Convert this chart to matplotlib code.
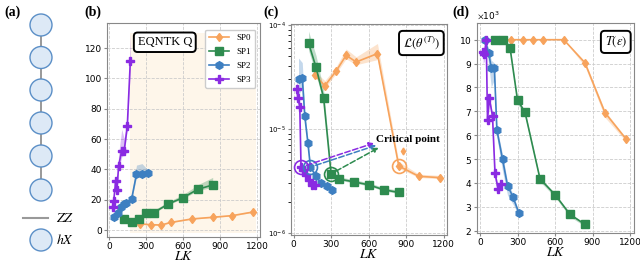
import numpy as np
import matplotlib
matplotlib.use("Agg")
from matplotlib import pyplot as plt
from matplotlib.ticker import MultipleLocator
from matplotlib.patches import Circle

plt.rcParams['mathtext.fontset'] = 'stix'
plt.rcParams['font.size'] = 6.5

# LK values per schedule
lk_sp0 = [170, 250, 340, 420, 500, 670, 840, 1000, 1170]
lk_sp1 = [120, 180, 240, 300, 360, 480, 600, 720, 840]
lk_sp2 = [40, 70, 90, 115, 135, 180, 220, 265, 310]
lk_sp3 = [25, 35, 50, 60, 75, 100, 120, 145, 170]

# (b) EQNTK Q
q_sp0 = [5.5, 4.0, 3.5, 3.3, 5.0, 7.3, 8.4, 9.5, 11.9]
q_sp1 = [7.0, 5.5, 7.3, 11.0, 11.5, 17.2, 21.4, 26.9, 29.7]
q_sp2 = [8.8, 11.5, 15.0, 17.2, 17.6, 20.3, 36.8, 36.8, 37.9]
q_sp3 = [15.4, 19.4, 32.0, 26.4, 42.5, 52.4, 52.4, 68.3, 111.7]
q_err0 = [0.5, 0.5, 0.5, 0.5, 0.5, 0.6, 0.6, 0.6, 0.8]
q_err1 = [0.8, 0.8, 0.8, 1.2, 1.5, 1.5, 2.0, 3.0, 5.0]
q_err2 = [1.0, 1.5, 1.5, 1.0, 1.0, 3.0, 6.0, 7.0, 2.0]
q_err3 = [1.5, 2.0, 3.0, 4.0, 8.0, 14.0, 8.0, 6.0, 18.0]

# (c) loss L(theta^(T))
l_sp0 = [3.3e-5, 2.6e-5, 3.6e-5, 5.1e-5, 4.4e-5, 5.3e-5, 4.4e-6, 3.5e-6, 3.4e-6]
l_sp1 = [6.7e-5, 3.9e-5, 2.0e-5, 3.7e-6, 3.3e-6, 3.1e-6, 2.9e-6, 2.6e-6, 2.45e-6]
l_sp2 = [3.0e-5, 3.1e-5, 1.33e-5, 7.3e-6, 4.3e-6, 3.5e-6, 3.0e-6, 2.8e-6, 2.6e-6]
l_sp3 = [2.4e-5, 2.0e-5, 1.64e-5, 4.3e-6, 4.0e-6, 3.6e-6, 3.2e-6, 2.9e-6, 2.9e-6]
l_rel0 = [0.08, 0.12, 0.1, 0.15, 0.12, 0.25, 0.1, 0.05, 0.05]
l_rel1 = [0.3, 0.3, 0.2, 0.08, 0.05, 0.05, 0.05, 0.05, 0.05]
l_rel2 = [0.6, 0.4, 0.1, 0.08, 0.06, 0.05, 0.05, 0.05, 0.05]
l_rel3 = [0.45, 0.2, 0.1, 0.1, 0.08, 0.05, 0.05, 0.05, 0.05]
crit_idx = {'SP0': 6, 'SP1': 3, 'SP2': 4, 'SP3': 3}
arrow_end = {'SP1': (680, 6.6e-6), 'SP2': (660, 6.95e-6), 'SP3': (642, 7.3e-6)}
outlier_lk, outlier_val = 870, 6.2e-6

# (d) T(eps)
t_sp0 = [10000, 10000, 10000, 10000, 10000, 10000, 9030, 6940, 5830]
t_sp1 = [10000, 10000, 9670, 7470, 6960, 4170, 3510, 2680, 2260]
t_sp2 = [10000, 9440, 8820, 8820, 6220, 5000, 3890, 3400, 2750]
t_sp3 = [9500, 9400, 10000, 6650, 7550, 6800, 4400, 3750, 3950]
t_err0 = [0, 0, 0, 0, 0, 0, 150, 200, 100]
t_err1 = [0, 0, 100, 150, 150, 120, 100, 100, 80]
t_err2 = [0, 500, 800, 500, 300, 500, 400, 300, 100]
t_err3 = [500, 300, 0, 300, 300, 200, 300, 200, 100]

names = ['SP0', 'SP1', 'SP2', 'SP3']
colors = ['#f7a35c', '#2e8b4f', '#3d7fc1', '#8a2be2']
markers = ['d', 's', 'h', 'P']
msizes = [4.5, 5.5, 5.5, 6]
lks = [lk_sp0, lk_sp1, lk_sp2, lk_sp3]

fig = plt.figure(figsize=(6.4, 2.64), dpi=100)

## panel (a): chain
axa = fig.add_axes([0, 0, 100/640, 1])
axa.set_xlim(0, 100)
axa.set_ylim(264, 0)
axa.axis('off')
chain_y = [25, 57.5, 90, 123, 156, 190]
axa.plot([41]*len(chain_y), chain_y, color='#888888', lw=1.2, zorder=1)
for cy in chain_y:
    axa.add_patch(Circle((41, cy), 11, fc='#dde9f6', ec='#5b8fc7', lw=1, zorder=2))
axa.plot([23, 48], [218, 218], color='#999999', lw=1.5)
axa.text(56, 218, r'$ZZ$', fontsize=10, va='center')
axa.add_patch(Circle((41, 240), 11, fc='#dde9f6', ec='#5b8fc7', lw=1))
axa.text(56, 240, r'$hX$', fontsize=10, va='center')

def style(ax):
    ax.grid(color='#cccccc', linestyle='--', lw=0.6)
    ax.set_axisbelow(True)
    for s in ax.spines.values():
        s.set_color('#888888')
    ax.tick_params(labelsize=6.5, length=2, color='#888888', pad=1.5)
    ax.set_xlim(-20, 1225)
    ax.xaxis.set_major_locator(MultipleLocator(300))
    ax.set_xlabel(r'$LK$', fontsize=10, labelpad=-1)

def tbox(ax, s):
    ax.text(0.955, 0.91, s, transform=ax.transAxes, ha='right', va='center',
            fontsize=9, family='Liberation Serif',
            bbox=dict(boxstyle='round,pad=0.3', fc='white', ec='black', lw=1.4))

## panel (b)
axb = fig.add_axes([107/640, 1-237/264, 153/640, 214/264])
style(axb)
shade_lk = (170, 1190)
axb.fill_between(shade_lk, -2, 130, color='#fef6ea', lw=0, zorder=0)
for nm, c, m, ms, x, y, e in zip(names, colors, markers, msizes, lks,
                                  [q_sp0, q_sp1, q_sp2, q_sp3],
                                  [q_err0, q_err1, q_err2, q_err3]):
    y = np.array(y); e = np.array(e)
    axb.fill_between(x, y - e*0.3, y + e, color=c, alpha=0.3, lw=0)
    axb.plot(x, y, color=c, marker=m, ms=ms, lw=1.2, label=nm)
axb.set_ylim(-4.6, 136.5)
axb.yaxis.set_major_locator(MultipleLocator(20))
axb.legend(loc='upper right', prop={'family': 'Liberation Serif', 'size': 6.5},
           handlelength=2.2, borderpad=0.5, labelspacing=0.6, framealpha=1,
           bbox_to_anchor=(1.0, 0.99))
axb.text(0.2, 0.91, 'EQNTK Q', transform=axb.transAxes, ha='left', va='center',
         fontsize=9, family='Liberation Serif',
         bbox=dict(boxstyle='round,pad=0.3', fc='white', ec='black', lw=1.4))

## panel (c)
axc = fig.add_axes([291/640, 1-235/264, 156/640, 211/264])
style(axc)
axc.set_yscale('log')
for nm, c, m, ms, x, y, r in zip(names, colors, markers, msizes, lks,
                                  [l_sp0, l_sp1, l_sp2, l_sp3],
                                  [l_rel0, l_rel1, l_rel2, l_rel3]):
    y = np.array(y); r = np.array(r)
    axc.fill_between(x, y*(1 - r*0.5), y*(1 + r), color=c, alpha=0.3, lw=0)
    axc.plot(x, y, color=c, marker=m, ms=ms, lw=1.2)
axc.plot(outlier_lk, outlier_val, color=colors[0], marker='d', ms=3.5)
axc.set_ylim(0.955e-6, 1.02e-4)
axc.tick_params(axis='y', which='both', labelsize=5, length=2)
for nm, c, x, y in zip(names, colors, lks, [l_sp0, l_sp1, l_sp2, l_sp3]):
    i = crit_idx[nm]
    axc.plot(x[i], y[i], 'o', ms=10, mfc='none', mec=c, mew=1.2)
    if nm in arrow_end:
        axc.annotate('', xy=arrow_end[nm], xytext=(x[i], y[i]),
                     arrowprops=dict(arrowstyle='-|>', ls='--', color=c, lw=1.1,
                                     shrinkA=4, shrinkB=0, mutation_scale=7))
axc.text(660, 7.9e-6, 'Critical point', fontsize=8, fontweight='bold',
         family='Liberation Serif', va='center', ha='left')
tbox(axc, r'$\mathcal{L}(\theta^{(T)})$')

## panel (d)
axd = fig.add_axes([477/640, 1-233/264, 157/640, 210/264])
style(axd)
axd.set_xlim(-24, 1232)
for nm, c, m, ms, x, y, e in zip(names, colors, markers, msizes, lks,
                                  [t_sp0, t_sp1, t_sp2, t_sp3],
                                  [t_err0, t_err1, t_err2, t_err3]):
    y = np.array(y); e = np.array(e)
    axd.fill_between(x, y - e, y + e*0.4, color=c, alpha=0.3, lw=0)
    axd.plot(x, y, color=c, marker=m, ms=ms, lw=1.2)
axd.set_ylim(1900, 10700)
axd.yaxis.set_major_locator(MultipleLocator(1000))
axd.ticklabel_format(axis='y', style='sci', scilimits=(3, 3), useMathText=True)
axd.yaxis.get_offset_text().set_fontsize(6.5)
tbox(axd, r'$T(\epsilon)$')

for lab, xp in zip(['(a)', '(b)', '(c)', '(d)'], [4, 84, 263, 452]):
    fig.text(xp/640, 1-12/264, lab, fontsize=10, fontweight='bold',
             family='Liberation Serif', va='center', ha='left')

fig.savefig('out.png', dpi=100)
